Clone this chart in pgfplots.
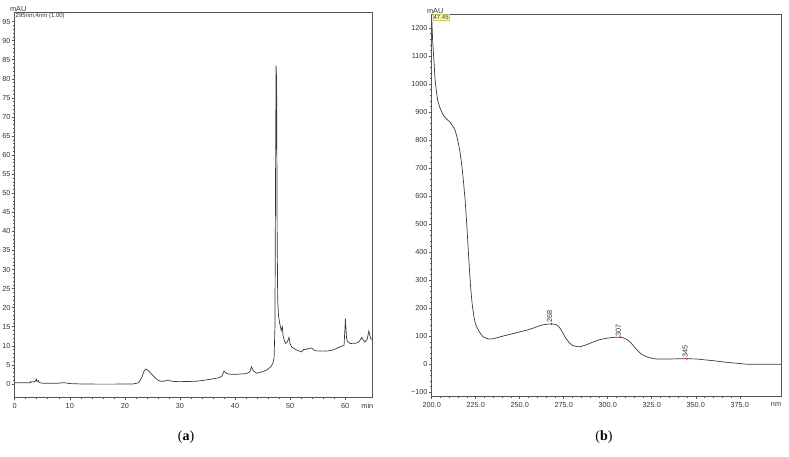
\documentclass[border=0pt]{standalone}
\usepackage{fontspec}
\setmainfont{Liberation Sans}
\newfontfamily\capfont{Liberation Serif}
\usepackage{pgfplots}
\pgfplotsset{compat=1.18}
\definecolor{axgray}{HTML}{555555}
\definecolor{curve}{HTML}{3A3A3A}
\definecolor{lbl}{HTML}{333333}
\definecolor{ybox}{HTML}{FFFFA8}
\pgfplotsset{chrom/.style={
  scale only axis,
  anchor=south west,
  axis line style={axgray, line width=0.6pt},
  every tick/.style={axgray, line width=0.5pt},
  tick align=outside,
  major tick length=3pt, minor tick length=1.8pt,
  xtick pos=lower, ytick pos=left,
  tick label style={font=\fontsize{7.3}{8}\selectfont, text=lbl},
  yticklabel style={inner sep=1pt},
  xticklabel style={inner sep=1pt, yshift=-2pt},
  /pgf/number format/assume math mode=true,
  clip mode=individual,
}}
\pgfplotstableread{
t v
0 0.3
2.8 0.3
2.9 0.6
3.0 0.5
3.3 0.6
3.5 0.5
3.8 0.8
3.9 1.3
4.0 0.8
4.1 0.6
4.3 0.9
4.4 0.5
4.6 0.3
5 0.2
8 0.2
8.5 0.3
9 0.35
9.5 0.2
10 0.1
12 0.0
15 -0.05
18 -0.05
20 0.0
21.5 0.0
22.5 0.3
23 1.5
23.5 3.4
23.8 3.9
24.2 3.6
24.8 2.6
25.5 1.6
26 1.0
26.5 0.7
27 0.7
27.5 0.9
27.8 1.0
28.2 0.8
29 0.65
30 0.6
33 0.7
35 1.1
37 1.6
37.6 2.0
38.0 3.4
38.3 2.9
38.8 2.6
40 2.5
42 2.7
42.7 3.2
43.0 4.5
43.3 3.5
43.9 2.8
45 3.2
45.7 3.6
46.5 4.5
46.9 5.5
47.1 7
47.25 15
47.35 50
47.45 83.5
47.55 80
47.65 40
47.75 22
47.9 18
48.1 16
48.4 14
48.6 15
48.7 12.8
49.0 11.2
49.2 10.6
49.5 11
49.8 12.2
50.0 10.5
50.3 9.7
51 9
52.1 8.4
52.5 9.1
52.8 9.0
53.3 9.3
53.9 9.4
54.5 8.7
56 8.6
57.2 8.7
58 9.0
59 9.7
59.8 10.1
60.05 17.1
60.25 12
60.4 11.2
60.9 10.6
62 10.7
62.5 11
63.0 12.2
63.3 11.5
63.6 11
64.0 11.7
64.3 13.9
64.6 12
65 11.5
}\chromA
\pgfplotstableread{
w v
200.0 1240
200.5 1160
201.0 1110
201.5 1060
202.0 1010
202.8 967
203.5 940
204.7 915
206.6 889
208.5 875
210.4 864
212 850
213.2 836
214.2 815
215.1 790
216 760
217 715
218 655
219 585
220 490
221 385
222 285
223 215
224 170
225 142
226.5 122
228 107
229.3 98
231 93
233.1 90
236 93
240 100
246.4 110
254 122
258 130
261.5 138
264 142
267.2 144
270 143
271.5 139
273 128
274.5 112
275.7 98
277.5 82
279.5 69
282 64
284.2 63
288 70
291.8 80
295.5 88
299.4 93
303 96
307 97
309 94
310.8 89
313 78
316.5 52
319 37
322.2 27
325 22
327.8 19
335 19
341 20
345 20
350.5 19
355 16
360 13
365 9
369.4 6
375 3
379 0.5
385 0
398.5 0
}\spectB
\begin{document}
\begin{tikzpicture}
\path[use as bounding box] (0,0) rectangle (789pt,457pt);
% ---------------- (a)
\begin{axis}[chrom,
  at={(14.7pt,59.7pt)}, width=358pt, height=385.3pt,
  xmin=0, xmax=65, ymin=-3.5, ymax=97.5,
  xtick={0,10,...,60}, ytick={0,5,...,95},
  minor x tick num=4, minor y tick num=4]
\addplot[curve, line width=0.7pt, no marks] table[x=t, y=v] {\chromA};
\node[font=\fontsize{7.3}{8}\selectfont, text=lbl, anchor=north, inner sep=1pt, yshift=-5pt] at (axis description cs:0.985,0) {min};
\node[font=\fontsize{7.3}{8}\selectfont, text=lbl, anchor=south, inner sep=0.5pt] at (axis description cs:0.01,1) {mAU};
\node[font=\fontsize{6}{7}\selectfont, text=lbl, anchor=north west, inner sep=0.8pt] at (axis description cs:0,1) {295nm,4nm (1.00)};
\end{axis}
% ---------------- (b)
\begin{axis}[chrom,
  at={(431.7pt,61pt)}, width=349.6pt, height=382pt,
  xmin=200, xmax=398.6, ymin=-113, ymax=1250,
  xtick={200,225,...,375}, ytick={-100,0,100,...,1200},
  yticklabels={−100,0,100,200,300,400,500,600,700,800,900,1000,1100,1200},
  xticklabel style={/pgf/number format/fixed, /pgf/number format/fixed zerofill, /pgf/number format/precision=1},
  minor x tick num=4, minor y tick num=4]
\addplot[curve, line width=0.7pt, no marks, smooth, tension=0.3] table[x=w, y=v] {\spectB};
\addplot[only marks, mark=*, mark size=0.6pt, red, forget plot] coordinates {(268,144) (307,97) (345,20)};
\node[rotate=90, anchor=west, font=\fontsize{7.3}{8}\selectfont, text=lbl, inner sep=0.8pt] at (axis cs:267,144) {268};
\node[rotate=90, anchor=west, font=\fontsize{7.3}{8}\selectfont, text=lbl, inner sep=0.8pt] at (axis cs:306,97) {307};
\node[rotate=90, anchor=west, font=\fontsize{7.3}{8}\selectfont, text=lbl, inner sep=0.8pt] at (axis cs:344,20) {345};
\node[font=\fontsize{7.3}{8}\selectfont, text=lbl, anchor=north, inner sep=1pt, yshift=-5pt] at (axis description cs:0.985,0) {nm};
\node[font=\fontsize{7.3}{8}\selectfont, text=lbl, anchor=south, inner sep=0.5pt] at (axis description cs:0.01,1) {mAU};
\node[font=\fontsize{6}{7}\selectfont, text=lbl, anchor=north west, inner sep=0.8pt, fill=ybox, draw=ybox!60!olive, line width=0.3pt, xshift=1pt, yshift=-0.5pt] at (axis description cs:0,1) {47.45};
\end{axis}
% captions
\node[font=\capfont\fontsize{14}{16}\selectfont] at (186pt,20pt) {(\textbf{a})};
\node[font=\capfont\fontsize{14}{16}\selectfont] at (604pt,20pt) {(\textbf{b})};
\end{tikzpicture}
\end{document}
